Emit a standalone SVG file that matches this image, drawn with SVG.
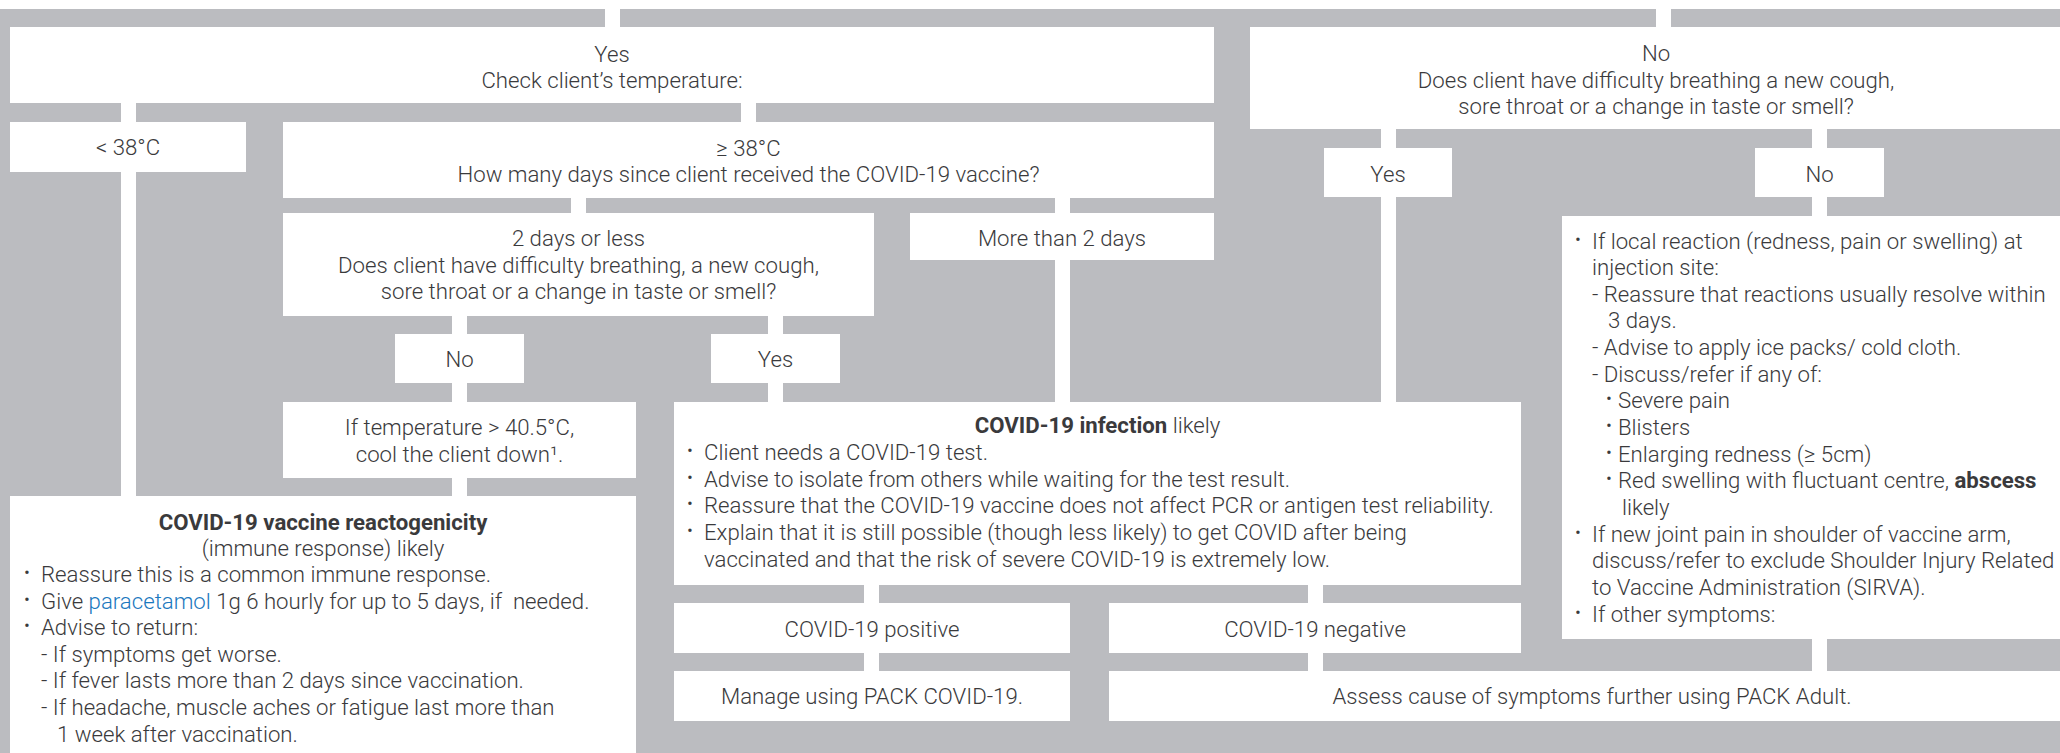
<svg xmlns="http://www.w3.org/2000/svg" width="2060" height="753" viewBox="0 0 2060 753">
<style>
.bg{fill:#bbbcc0}
.box{fill:#ffffff}
.con{fill:#ffffff}
text{font-family:Roboto,"Liberation Sans",sans-serif;font-weight:300;font-size:22.2px;fill:#3a3a3c}
.c{text-anchor:middle}
.b{font-weight:700}
.blue{fill:#1a78be}
.dot{font-size:18px}
</style>
<rect class="bg" x="0" y="0" width="2060" height="753"/>
<rect class="box" x="0" y="0" width="2060" height="9"/>

<g id="connectors">
<rect class="con" x="605" y="9" width="15" height="18"/>
<rect class="con" x="1656" y="9" width="15" height="18"/>
<rect class="con" x="121" y="103" width="15" height="19"/>
<rect class="con" x="121" y="172" width="15" height="324"/>
<rect class="con" x="741" y="103" width="15" height="19"/>
<rect class="con" x="571" y="198" width="15" height="15"/>
<rect class="con" x="1055" y="198" width="15" height="15"/>
<rect class="con" x="1055" y="260" width="15" height="142"/>
<rect class="con" x="452" y="316" width="15" height="18"/>
<rect class="con" x="452" y="383" width="15" height="19"/>
<rect class="con" x="452" y="478" width="15" height="18"/>
<rect class="con" x="768" y="316" width="15" height="18"/>
<rect class="con" x="768" y="383" width="15" height="19"/>
<rect class="con" x="1381" y="129" width="15" height="19"/>
<rect class="con" x="1381" y="197" width="15" height="205"/>
<rect class="con" x="1812" y="129" width="15" height="19"/>
<rect class="con" x="1812" y="197" width="15" height="19"/>
<rect class="con" x="864" y="585" width="15" height="18"/>
<rect class="con" x="864" y="653" width="15" height="18"/>
<rect class="con" x="1308" y="585" width="15" height="18"/>
<rect class="con" x="1308" y="653" width="15" height="18"/>
<rect class="con" x="1812" y="639" width="15" height="32"/>
</g>

<g id="yes-temp">
<rect class="box" x="10" y="27" width="1204" height="76"/>
<text class="c" x="612" y="62">Yes</text>
<text class="c" x="612" y="88">Check client’s temperature:</text>
</g>

<g id="no-breathing">
<rect class="box" x="1250" y="27" width="810" height="102"/>
<text class="c" x="1656" y="61">No</text>
<text class="c" x="1656" y="87.5">Does client have difficulty breathing a new cough,</text>
<text class="c" x="1656" y="114">sore throat or a change in taste or smell?</text>
</g>

<g id="lt38">
<rect class="box" x="10" y="122" width="236" height="50"/>
<text class="c" x="128" y="155">&lt; 38°C</text>
</g>

<g id="ge38">
<rect class="box" x="283" y="122" width="931" height="76"/>
<text class="c" x="748.5" y="156">≥ 38°C</text>
<text class="c" x="748.5" y="182">How many days since client received the COVID-19 vaccine?</text>
</g>

<g id="yes-right">
<rect class="box" x="1324" y="148" width="128" height="49"/>
<text class="c" x="1388" y="182">Yes</text>
</g>

<g id="no-right">
<rect class="box" x="1755" y="148" width="129" height="49"/>
<text class="c" x="1819.5" y="182">No</text>
</g>

<g id="two-days">
<rect class="box" x="283" y="213" width="591" height="103"/>
<text class="c" x="578.5" y="246">2 days or less</text>
<text class="c" x="578.5" y="272.5">Does client have difficulty breathing, a new cough,</text>
<text class="c" x="578.5" y="299">sore throat or a change in taste or smell?</text>
</g>

<g id="more-than-2">
<rect class="box" x="910" y="213" width="304" height="47"/>
<text class="c" x="1062" y="246">More than 2 days</text>
</g>

<g id="no-left">
<rect class="box" x="395" y="334" width="129" height="49"/>
<text class="c" x="459.5" y="367">No</text>
</g>

<g id="yes-mid">
<rect class="box" x="711" y="334" width="129" height="49"/>
<text class="c" x="775.5" y="367">Yes</text>
</g>

<g id="cool-down">
<rect class="box" x="283" y="402" width="353" height="76"/>
<text class="c" x="459.5" y="435">If temperature &gt; 40.5°C,</text>
<text class="c" x="459.5" y="461.5">cool the client down¹.</text>
</g>

<g id="covid-infection">
<rect class="box" x="674" y="402" width="847" height="183"/>
<text class="c" x="1097.5" y="433"><tspan class="b">COVID-19 infection</tspan> likely</text>
<text class="dot" x="687" y="457">•</text>
<text x="704" y="460">Client needs a COVID-19 test.</text>
<text class="dot" x="687" y="483.5">•</text>
<text x="704" y="486.5">Advise to isolate from others while waiting for the test result.</text>
<text class="dot" x="687" y="510">•</text>
<text x="704" y="513">Reassure that the COVID-19 vaccine does not affect PCR or antigen test reliability.</text>
<text class="dot" x="687" y="537">•</text>
<text x="704" y="540">Explain that it is still possible (though less likely) to get COVID after being</text>
<text x="704" y="566.5">vaccinated and that the risk of severe COVID-19 is extremely low.</text>
</g>

<g id="local-reaction">
<rect class="box" x="1562" y="216" width="498" height="423"/>
<text class="dot" x="1575" y="245.5">•</text>
<text x="1592" y="248.5">If local reaction (redness, pain or swelling) at</text>
<text x="1592" y="275">injection site:</text>
<text x="1592" y="301.5">- Reassure that reactions usually resolve within</text>
<text x="1608" y="328">3 days.</text>
<text x="1592" y="355">- Advise to apply ice packs/ cold cloth.</text>
<text x="1592" y="381.5">- Discuss/refer if any of:</text>
<text class="dot" x="1606" y="405">•</text>
<text x="1618" y="408">Severe pain</text>
<text class="dot" x="1606" y="432">•</text>
<text x="1618" y="435">Blisters</text>
<text class="dot" x="1606" y="458.5">•</text>
<text x="1618" y="461.5">Enlarging redness (≥ 5cm)</text>
<text class="dot" x="1606" y="485">•</text>
<text x="1618" y="488">Red swelling with fluctuant centre, <tspan class="b">abscess</tspan></text>
<text x="1622" y="515">likely</text>
<text class="dot" x="1575" y="538.5">•</text>
<text x="1592" y="541.5">If new joint pain in shoulder of vaccine arm,</text>
<text x="1592" y="568">discuss/refer to exclude Shoulder Injury Related</text>
<text x="1592" y="595">to Vaccine Administration (SIRVA).</text>
<text class="dot" x="1575" y="618.5">•</text>
<text x="1592" y="621.5">If other symptoms:</text>
</g>

<g id="reactogenicity">
<rect class="box" x="10" y="496" width="626" height="257"/>
<text class="c b" x="323" y="530">COVID-19 vaccine reactogenicity</text>
<text class="c" x="323" y="556">(immune response) likely</text>
<text class="dot" x="24" y="579">•</text>
<text x="41" y="582">Reassure this is a common immune response.</text>
<text class="dot" x="24" y="605.5">•</text>
<text x="41" y="608.5">Give <tspan class="blue">paracetamol</tspan> 1g 6 hourly for up to 5 days, if &#160;needed.</text>
<text class="dot" x="24" y="632">•</text>
<text x="41" y="635">Advise to return:</text>
<text x="41" y="661.5">- If symptoms get worse.</text>
<text x="41" y="688">- If fever lasts more than 2 days since vaccination.</text>
<text x="41" y="715">- If headache, muscle aches or fatigue last more than</text>
<text x="57" y="741.5">1 week after vaccination.</text>
</g>

<g id="covid-positive">
<rect class="box" x="674" y="603" width="396" height="50"/>
<text class="c" x="872" y="637">COVID-19 positive</text>
</g>

<g id="covid-negative">
<rect class="box" x="1109" y="603" width="412" height="50"/>
<text class="c" x="1315" y="637">COVID-19 negative</text>
</g>

<g id="manage">
<rect class="box" x="674" y="671" width="396" height="50"/>
<text class="c" x="872" y="704">Manage using PACK COVID-19.</text>
</g>

<g id="assess">
<rect class="box" x="1109" y="671" width="951" height="50"/>
<text class="c" x="1592" y="704">Assess cause of symptoms further using PACK Adult.</text>
</g>
</svg>
